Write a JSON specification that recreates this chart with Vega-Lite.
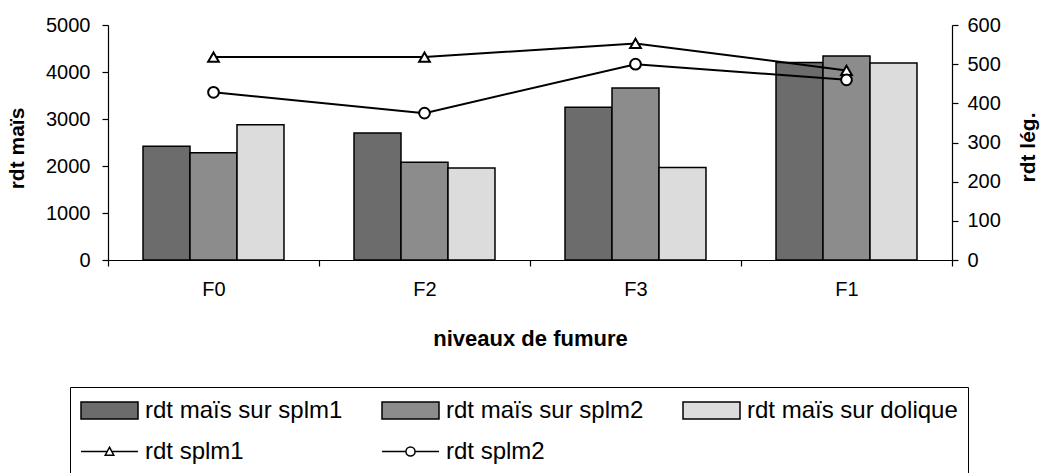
{
  "$schema": "https://vega.github.io/schema/vega-lite/v6.json",
  "width": 844,
  "height": 235,
  "autosize": {"type": "none"},
  "padding": {"left": 108, "top": 25, "right": 88, "bottom": 213},
  "background": "white",
  "config": {
    "font": "Liberation Sans",
    "view": {"stroke": null},
    "axis": {
      "grid": false,
      "domainColor": "black",
      "domainWidth": 1.2,
      "tickColor": "black",
      "tickWidth": 1.2,
      "labelColor": "black",
      "titleColor": "black",
      "labelFont": "Liberation Sans",
      "titleFont": "Liberation Sans"
    }
  },
  "data": {
    "values": [
      {"niveau": "F0", "serie": "rdt maïs sur splm1", "type": "bar", "valeur": 2420},
      {"niveau": "F0", "serie": "rdt maïs sur splm2", "type": "bar", "valeur": 2280},
      {"niveau": "F0", "serie": "rdt maïs sur dolique", "type": "bar", "valeur": 2880},
      {"niveau": "F2", "serie": "rdt maïs sur splm1", "type": "bar", "valeur": 2700},
      {"niveau": "F2", "serie": "rdt maïs sur splm2", "type": "bar", "valeur": 2080},
      {"niveau": "F2", "serie": "rdt maïs sur dolique", "type": "bar", "valeur": 1960},
      {"niveau": "F3", "serie": "rdt maïs sur splm1", "type": "bar", "valeur": 3250},
      {"niveau": "F3", "serie": "rdt maïs sur splm2", "type": "bar", "valeur": 3660},
      {"niveau": "F3", "serie": "rdt maïs sur dolique", "type": "bar", "valeur": 1970},
      {"niveau": "F1", "serie": "rdt maïs sur splm1", "type": "bar", "valeur": 4200},
      {"niveau": "F1", "serie": "rdt maïs sur splm2", "type": "bar", "valeur": 4340},
      {"niveau": "F1", "serie": "rdt maïs sur dolique", "type": "bar", "valeur": 4190},
      {"niveau": "F0", "serie": "rdt splm1", "type": "ligne", "valeur": 518},
      {"niveau": "F2", "serie": "rdt splm1", "type": "ligne", "valeur": 518},
      {"niveau": "F3", "serie": "rdt splm1", "type": "ligne", "valeur": 553},
      {"niveau": "F1", "serie": "rdt splm1", "type": "ligne", "valeur": 484},
      {"niveau": "F0", "serie": "rdt splm2", "type": "ligne", "valeur": 428},
      {"niveau": "F2", "serie": "rdt splm2", "type": "ligne", "valeur": 375},
      {"niveau": "F3", "serie": "rdt splm2", "type": "ligne", "valeur": 500},
      {"niveau": "F1", "serie": "rdt splm2", "type": "ligne", "valeur": 460}
    ]
  },
  "layer": [
    {
      "transform": [{"filter": "datum.type === 'bar'"}],
      "mark": {"type": "bar", "stroke": "black", "strokeWidth": 1.5},
      "encoding": {
        "x": {
          "field": "niveau",
          "type": "nominal",
          "scale": {"domain": ["F0", "F2", "F3", "F1"], "paddingInner": 0, "paddingOuter": 0},
          "axis": {
            "title": "niveaux de fumure",
            "titleFontSize": 22,
            "titleFontWeight": "bold",
            "titleY": 85,
            "titleBaseline": "alphabetic",
            "labelFontSize": 20,
            "labelAngle": 0,
            "labelPadding": 13,
            "tickSize": 6,
            "tickBand": "extent"
          }
        },
        "xOffset": {
          "field": "serie",
          "type": "nominal",
          "scale": {"domain": ["rdt maïs sur splm1", "rdt maïs sur splm2", "rdt maïs sur dolique"], "paddingInner": 0, "paddingOuter": 0.745}
        },
        "y": {
          "field": "valeur",
          "type": "quantitative",
          "scale": {"domain": [0, 5000]},
          "axis": {
            "title": "rdt maïs",
            "titleFontSize": 21,
            "titleFontWeight": "bold",
            "titleX": -91,
            "titleY": 123,
            "titleAngle": 270,
            "titleAlign": "center",
            "titleBaseline": "middle",
            "values": [0, 1000, 2000, 3000, 4000, 5000],
            "format": "d",
            "labelFontSize": 20,
            "labelPadding": 12,
            "tickSize": 6
          }
        },
        "fill": {
          "field": "serie",
          "type": "nominal",
          "scale": {
            "domain": ["rdt maïs sur splm1", "rdt maïs sur splm2", "rdt maïs sur dolique", "rdt splm1", "rdt splm2"],
            "range": ["#6c6c6c", "#8c8c8c", "#dcdcdc", "white", "white"]
          },
          "legend": {
            "title": null,
            "orient": "none",
            "legendX": -38,
            "legendY": 362,
            "direction": "horizontal",
            "columns": 3,
            "gridAlign": "all",
            "columnPadding": 25,
            "rowPadding": 14,
            "padding": 10,
            "clipHeight": 27,
            "strokeColor": "black",
            "symbolSize": 3249,
            "symbolStrokeColor": "black",
            "symbolStrokeWidth": 1.5,
            "symbolOpacity": 1,
            "labelFontSize": 24,
            "labelColor": "black",
            "labelOffset": 6,
            "labelLimit": 400,
            "encode": {
              "symbols": {
                "update": {
                  "shape": {
                    "signal": "datum.value === 'rdt splm1' ? 'M-1,0H-0.1M0.1,0H1M0,-0.15L0.15,0.13L-0.15,0.13Z' : (datum.value === 'rdt splm2' ? 'M-1,0H-0.16M0.16,0H1M-0.16,0A0.16,0.16,0,1,1,0.16,0A0.16,0.16,0,1,1,-0.16,0Z' : 'M-1,-0.3H1V0.3H-1Z')"
                  }
                }
              }
            }
          }
        }
      }
    },
    {
      "transform": [{"filter": "datum.type === 'ligne'"}],
      "encoding": {
        "x": {"field": "niveau", "type": "nominal"},
        "y": {
          "field": "valeur",
          "type": "quantitative",
          "scale": {"domain": [0, 600]},
          "axis": {
            "orient": "right",
            "title": "rdt lég.",
            "titleFontSize": 21,
            "titleFontWeight": "bold",
            "titleX": 76,
            "titleY": 122,
            "titleAngle": 270,
            "titleAlign": "center",
            "titleBaseline": "middle",
            "values": [0, 100, 200, 300, 400, 500, 600],
            "labelOverlap": false,
            "labelFontSize": 20,
            "labelPadding": 9,
            "tickSize": 6
          }
        }
      },
      "layer": [
        {
          "mark": {"type": "line", "color": "black", "strokeWidth": 2},
          "encoding": {
            "detail": {"field": "serie", "type": "nominal"}
          }
        },
        {
          "mark": {"type": "point", "filled": true, "fill": "white", "stroke": "black", "strokeWidth": 2, "size": 115, "opacity": 1},
          "encoding": {
            "shape": {
              "field": "serie",
              "type": "nominal",
              "scale": {"domain": ["rdt splm1", "rdt splm2"], "range": ["triangle-up", "circle"]},
              "legend": null
            }
          }
        }
      ]
    }
  ],
  "resolve": {"scale": {"y": "independent"}}
}
